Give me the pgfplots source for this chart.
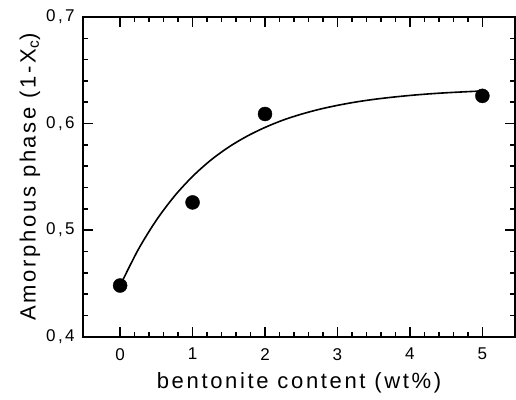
\documentclass[border=0pt]{standalone}
\usepackage{fontspec}
\setmainfont{Liberation Sans}
\newfontfamily\lblfont[LetterSpace=12]{Liberation Sans}
\newfontfamily\tickfont[LetterSpace=14]{Liberation Sans}
\usepackage{pgfplots}
\pgfplotsset{compat=1.18}
\begin{document}
\begin{tikzpicture}
\begin{axis}[
  scale only axis,
  width=431bp, height=319bp,
  xmin=-0.51, xmax=5.45,
  ymin=0.4, ymax=0.7,
  xtick={0,1,2,3,4,5},
  ytick={0.4,0.5,0.6,0.7},
  minor x tick num=4,
  minor y tick num=4,
  tick align=inside,
  major tick length=10bp,
  minor tick length=5bp,
  axis line style={line width=2.2bp},
  every tick/.style={line width=1.6bp, black},
  /pgf/number format/assume math mode=true,
  /pgf/number format/use comma,
  yticklabel style={/pgf/number format/fixed,/pgf/number format/precision=1,/pgf/number format/fixed zerofill, font=\tickfont\fontsize{17bp}{20bp}\selectfont, xshift=-5bp},
  xticklabel style={font=\tickfont\fontsize{17bp}{20bp}\selectfont, yshift=-8bp},
  xlabel={bentonite content (wt\%)},
  ylabel={Amorphous phase (1-X\textsubscript{c})},
  xlabel style={at={(axis description cs:0.5,-0.144)}, anchor=center, font=\lblfont\fontsize{22bp}{26bp}\selectfont},
  ylabel style={at={(axis description cs:-0.123,0.5)}, anchor=center, font=\lblfont\fontsize{22bp}{26bp}\selectfont},
  clip=false,
]
\addplot[black, line width=1.6bp, smooth] coordinates {
(0,0.448) (0.25,0.4817) (0.5,0.5093) (0.75,0.5319) (1.0,0.5504) (1.25,0.5656)
(1.5,0.5780) (1.75,0.5881) (2.0,0.5964) (2.25,0.6033) (2.5,0.6088) (2.75,0.6134)
(3.0,0.6171) (3.25,0.6202) (3.5,0.6227) (3.75,0.6247) (4.0,0.6264) (4.25,0.6278)
(4.5,0.6289) (4.75,0.6298) (5.0,0.6306)
};
\addplot[only marks, mark=*, mark size=7bp, black] coordinates {
(0,0.448) (1,0.526) (2,0.609) (5,0.626)
};
\path (rel axis cs:0,0) coordinate (sw) (rel axis cs:1,1) coordinate (ne);
\end{axis}
\pgfresetboundingbox
\useasboundingbox ([shift={(-83bp,-63bp)}]sw) rectangle ([shift={(1bp,17bp)}]ne);
\end{tikzpicture}
\end{document}
